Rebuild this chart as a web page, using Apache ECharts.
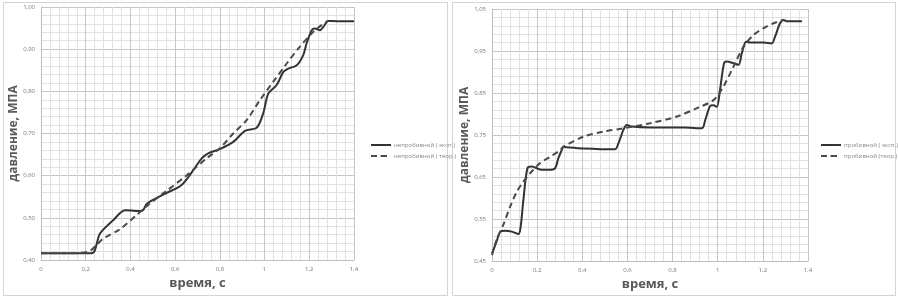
<!DOCTYPE html>
<html>
<head>
<meta charset="utf-8">
<script src="https://cdn.jsdelivr.net/npm/echarts@6/dist/echarts.min.js"></script>
<style>
  html, body { margin: 0; padding: 0; background: #fff; }
  #chart { width: 898px; height: 299px; }
</style>
</head>
<body>
<div id="chart"></div>
<script>
// левый график: непробивной
const leftExp = [
  [0, 0.416], [0.1, 0.416], [0.227, 0.416], [0.264, 0.463], [0.324, 0.495], [0.376, 0.518],
  [0.45, 0.516], [0.473, 0.533], [0.51, 0.545], [0.562, 0.559], [0.629, 0.578],
  [0.681, 0.613], [0.719, 0.641], [0.748, 0.653], [0.8, 0.663], [0.86, 0.68],
  [0.912, 0.706], [0.965, 0.714], [0.994, 0.748], [1.017, 0.795], [1.054, 0.815],
  [1.084, 0.846], [1.106, 0.854], [1.144, 0.862], [1.173, 0.886], [1.188, 0.914],
  [1.211, 0.945], [1.225, 0.949], [1.248, 0.945], [1.263, 0.953], [1.285, 0.967],
  [1.33, 0.966], [1.4, 0.966]
];
const leftTheor = [
  [0, 0.416], [0.1, 0.416], [0.212, 0.42], [0.249, 0.436], [0.279, 0.451], [0.353, 0.473],
  [0.428, 0.507], [0.487, 0.534], [0.562, 0.564], [0.652, 0.601], [0.741, 0.641],
  [0.8, 0.665], [0.86, 0.7], [0.92, 0.732], [0.979, 0.779], [1.039, 0.823],
  [1.099, 0.866], [1.158, 0.906], [1.218, 0.941], [1.255, 0.957], [1.284, 0.967]
];
// правый график: пробивной
const rightExp = [
  [0, 0.468], [0.02, 0.496], [0.037, 0.52], [0.058, 0.522], [0.088, 0.52], [0.117, 0.514],
  [0.127, 0.532], [0.139, 0.595], [0.157, 0.671], [0.176, 0.675], [0.213, 0.668],
  [0.257, 0.667], [0.28, 0.671], [0.294, 0.695], [0.309, 0.714], [0.316, 0.722],
  [0.331, 0.721], [0.405, 0.718], [0.545, 0.716], [0.56, 0.73], [0.582, 0.762],
  [0.597, 0.774], [0.619, 0.77], [0.701, 0.768], [0.849, 0.768], [0.93, 0.766],
  [0.945, 0.786], [0.966, 0.819], [0.981, 0.821], [0.996, 0.817], [1.01, 0.857],
  [1.028, 0.921], [1.04, 0.925], [1.07, 0.921], [1.092, 0.917], [1.107, 0.945],
  [1.126, 0.972], [1.143, 0.97], [1.202, 0.97], [1.239, 0.968], [1.254, 0.984],
  [1.276, 1.016], [1.291, 1.024], [1.306, 1.021], [1.373, 1.021]
];
const rightTheor = [
  [0, 0.464], [0.02, 0.5], [0.05, 0.536], [0.08, 0.579], [0.11, 0.615], [0.139, 0.639],
  [0.176, 0.663], [0.213, 0.683], [0.257, 0.698], [0.302, 0.714], [0.316, 0.722],
  [0.405, 0.746], [0.494, 0.758], [0.582, 0.766], [0.701, 0.778], [0.819, 0.794],
  [0.908, 0.814], [0.981, 0.833], [1.025, 0.865], [1.07, 0.913], [1.114, 0.96],
  [1.158, 0.988], [1.202, 1.004], [1.247, 1.016], [1.291, 1.024]
];
const seriesNames = ["непробивной ( эксп.)", "непробивной ( теор.)", "пробивной ( эксп.)", "пробивной (теор.)"];
const xTitle = "время, с";
const yTitle = "давление, МПА";

const chartDom = echarts.init(document.getElementById("chart"));

function fmtX(v) {
  return String(Math.round(v * 10) / 10).replace(".", ",");
}
function fmtY(v) {
  return v.toFixed(2).replace(".", ",");
}

function xAxis(gridIndex) {
  return {
    gridIndex: gridIndex,
    type: "value",
    min: 0,
    max: 1.4,
    interval: 0.2,
    name: xTitle,
    nameLocation: "middle",
    nameGap: 17,
    nameTextStyle: { fontSize: 13, fontWeight: "bold", color: "#595959", fontFamily: "Open Sans" },
    axisLine: { show: true, lineStyle: { color: "#bfbfbf", width: 1 } },
    axisTick: { show: false },
    axisLabel: { fontSize: 6, color: "#777", margin: 6, formatter: fmtX },
    splitLine: { show: true, lineStyle: { color: "#c6c6c6", width: 1 } },
    minorTick: { show: false, splitNumber: 5 },
    minorSplitLine: { show: true, lineStyle: { color: "#e2e2e2", width: 1 } },
  };
}

function yAxis(gridIndex, min, max) {
  return {
    gridIndex: gridIndex,
    type: "value",
    min: min,
    max: max,
    interval: 0.1,
    name: yTitle,
    nameLocation: "middle",
    nameGap: 20,
    nameTextStyle: { fontSize: 12, fontWeight: "bold", color: "#595959", fontFamily: "Open Sans" },
    axisLine: { show: true, lineStyle: { color: "#bfbfbf", width: 1 } },
    axisTick: { show: false },
    axisLabel: { fontSize: 6, color: "#777", margin: 6, formatter: fmtY },
    splitLine: { show: true, lineStyle: { color: "#c6c6c6", width: 1 } },
    minorTick: { show: false, splitNumber: 5 },
    minorSplitLine: { show: true, lineStyle: { color: "#e2e2e2", width: 1 } },
  };
}

function lineSeries(name, data, idx, dashed) {
  return {
    name: name,
    type: "line",
    xAxisIndex: idx,
    yAxisIndex: idx,
    data: data,
    smooth: 0.3,
    symbol: "none",
    lineStyle: {
      color: dashed ? "#4a4a4a" : "#333",
      width: 2,
      type: dashed ? [6, 4] : "solid",
    },
    itemStyle: { color: dashed ? "#4a4a4a" : "#333" },
  };
}

let option = {
  animation: false,
  textStyle: { fontFamily: "Open Sans" },
  graphic: [
    { type: "rect", shape: { x: 3.5, y: 2.5, width: 444, height: 293 }, style: { fill: "none", stroke: "#d4d4d4", lineWidth: 1 } },
    { type: "rect", shape: { x: 452.5, y: 2.5, width: 443, height: 293 }, style: { fill: "none", stroke: "#d4d4d4", lineWidth: 1 } },
  ],
  legend: [
    {
      data: [seriesNames[0], seriesNames[1]],
      left: 365,
      top: 137,
      orient: "vertical",
      itemWidth: 20,
      itemHeight: 2,
      itemGap: 5,
      textStyle: { fontSize: 6, color: "#888", padding: [0, 0, 0, -2] },
    },
    {
      data: [seriesNames[2], seriesNames[3]],
      left: 815,
      top: 137,
      orient: "vertical",
      itemWidth: 20,
      itemHeight: 2,
      itemGap: 5,
      textStyle: { fontSize: 6, color: "#888", padding: [0, 0, 0, -2] },
    },
  ],
  grid: [
    { left: 41, top: 7, width: 313, height: 253 },
    { left: 492, top: 9, width: 316, height: 252 },
  ],
  xAxis: [xAxis(0), xAxis(1)],
  yAxis: [yAxis(0, 0.4, 1.0), yAxis(1, 0.45, 1.05)],
  series: [
    lineSeries(seriesNames[0], leftExp, 0, false),
    lineSeries(seriesNames[1], leftTheor, 0, true),
    lineSeries(seriesNames[2], rightExp, 1, false),
    lineSeries(seriesNames[3], rightTheor, 1, true),
  ],
};
option && chartDom.setOption(option);
</script>
</body>
</html>
